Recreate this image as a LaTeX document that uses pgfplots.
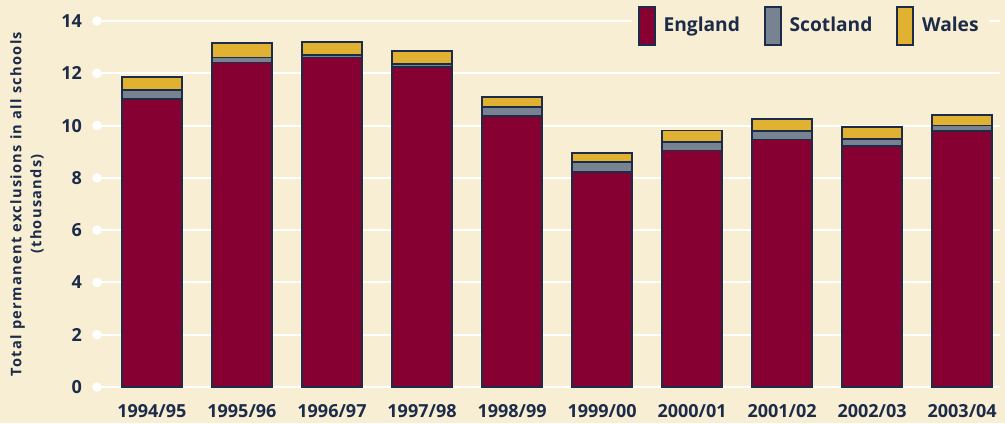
\documentclass[border=0pt]{standalone}
\usepackage{fontspec}
\setmainfont{Open Sans}
\newfontfamily\spaced[LetterSpace=9]{Open Sans}
\usepackage{pgfplots}
\pgfplotsset{compat=1.18}
\definecolor{bg}{HTML}{F8EED4}
\definecolor{eng}{HTML}{870032}
\definecolor{sco}{HTML}{788392}
\definecolor{wal}{HTML}{E1B131}
\definecolor{navy}{HTML}{1C2B47}
\begin{document}
\begin{tikzpicture}
\fill[bg] (-48.5pt,-18pt) rectangle (454pt,193.5pt);
\begin{axis}[scale only axis, width=451.5pt, height=183pt,
  xmin=-0.61, xmax=9.42, ymin=0, ymax=14, hide axis, clip=false]
\addplot[only marks, mark=*, mark size=2.2pt, white] coordinates {
(-0.61,0) (-0.61,2) (-0.61,4) (-0.61,6) (-0.61,8) (-0.61,10) (-0.61,12) (-0.61,14)};
\end{axis}
\begin{axis}[scale only axis, width=451.5pt, height=183pt,
  xmin=-0.61, xmax=9.42, ymin=0, ymax=14,
  ybar stacked, bar width=30pt,
  axis line style={draw=none}, major tick length=0pt,
  ymajorgrids, grid style={white, line width=1pt},
  ytick={0,2,...,14}, xtick={0,...,9},
  xticklabels={1994/95,1995/96,1996/97,1997/98,1998/99,1999/00,2000/01,2001/02,2002/03,2003/04},
  ticklabel style={font=\bfseries\fontsize{9}{10}\selectfont, text=navy},
  yticklabel style={xshift=-4pt},
  xticklabel style={yshift=-5pt},
  /pgf/number format/assume math mode=true,
  ylabel={Total permanent exclusions in all schools\\(thousands)},
  ylabel style={align=center, font=\spaced\bfseries\fontsize{7.3}{10}\selectfont, text=navy,
    at={(axis description cs:-0.0775,0.5)}, anchor=center},
  legend columns=3,
  legend style={at={(1,1)}, anchor=north east, yshift=10.5pt, xshift=-5.5pt, fill=bg, draw=none, inner sep=3pt,
    font=\bfseries\fontsize{9.6}{10}\selectfont, text=navy,
    /tikz/every even column/.append style={column sep=10pt}},
  legend image code/.code={\draw[#1] (0pt,-9.5pt) rectangle (8pt,9.5pt); \path (10pt,0pt);},
  every axis plot/.append style={draw=navy, line width=0.8pt},
]
\addplot[fill=eng] coordinates {(0,11.01) (1,12.41) (2,12.61) (3,12.24) (4,10.36) (5,8.23) (6,9.05) (7,9.46) (8,9.21) (9,9.79)};
\addplot[fill=sco] coordinates {(0,0.36) (1,0.20) (2,0.10) (3,0.11) (4,0.34) (5,0.38) (6,0.33) (7,0.33) (8,0.28) (9,0.21)};
\addplot[fill=wal] coordinates {(0,0.48) (1,0.55) (2,0.48) (3,0.50) (4,0.40) (5,0.35) (6,0.43) (7,0.46) (8,0.46) (9,0.41)};
\legend{England,Scotland,Wales}
\end{axis}
\pgfresetboundingbox
\path (-48.5pt,-18pt) rectangle (454pt,193.5pt);
\end{tikzpicture}
\end{document}
